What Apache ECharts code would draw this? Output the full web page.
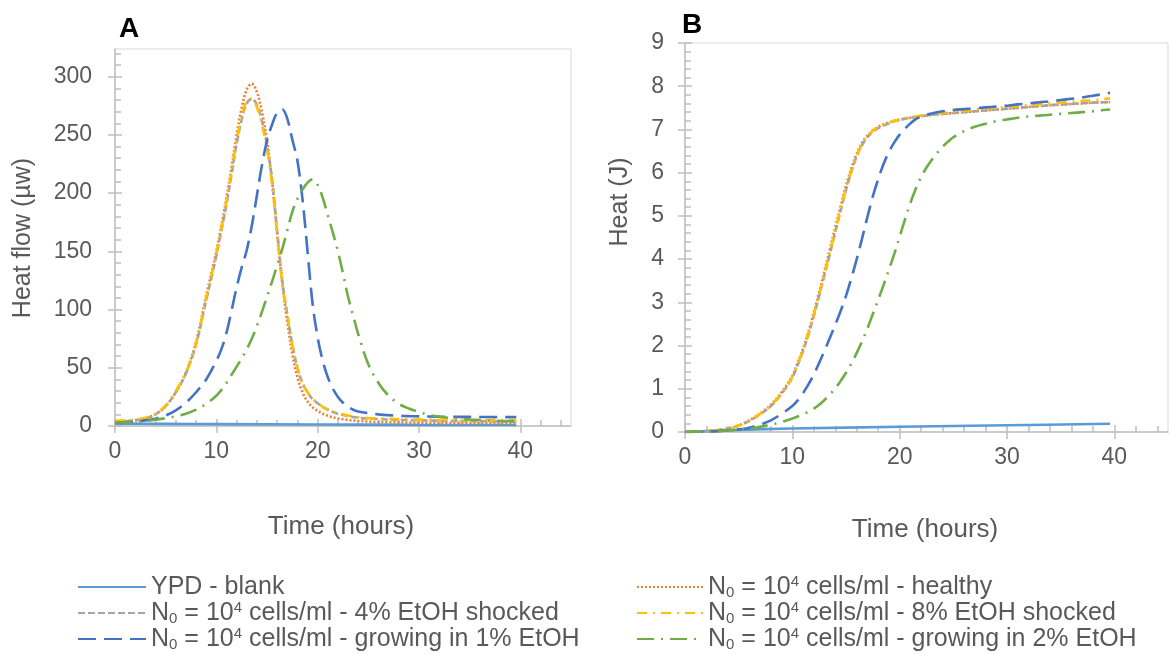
<!DOCTYPE html>
<html>
<head>
<meta charset="utf-8">
<script src="https://cdn.jsdelivr.net/npm/echarts@6/dist/echarts.min.js"></script>
<style>
  html, body { margin: 0; padding: 0; background: #ffffff; }
  #chart { width: 1169px; height: 654px; }
</style>
</head>
<body>
<div id="chart"></div>
<script>
// Sampling times (hours) shared by the culture curves
const TIME = [0,1,2,3,4,5,6,7,8,9,
  10,10.5,11,11.5,12,12.5,13,13.5,14,
  14.5,15,15.5,16,16.5,17,17.5,18,18.5,19,
  19.5,20,20.5,21,21.5,22,22.5,23,23.5,24,
  25,26,27,28,29,30,31,32,33,34,35,36,37,38,39,
  39.6];

// Blank medium is nearly a straight line, so it has its own coarse times
const BLANK_TIME = [0, 5, 10, 20, 30, 39.6];

// Panel A: heat flow (µW)
const FLOW_BLANK   = [2.0, 1.8, 1.6, 1.3, 1.0, 0.8];
const FLOW_HEALTHY = [3.5,4,5,6.5,10,17,29,46,72,112,
  150,172,196,222,250,273,289,294,287,
  270,245,210,165,123,90,62,42,29,21,
  16,13,10.5,8.8,7.5,6.5,5.8,5.2,4.7,4.3,
  3.8,3.5,3.3,3.1,3.0,2.9,2.8,2.7,2.6,2.5,2.5,2.4,2.4,2.3,2.3,
  2.2];
const FLOW_ETOH4 = [3.7,4,5,6.5,10,17,29,45,70,108,
  146,168,190,216,242,263,277,281,276,
  262,241,212,168,125,96,70,50,37,29,
  23,19.5,16.5,14,12,10.5,9.5,8.5,7.8,7,
  6.4,6,5.6,5.3,5.1,4.9,4.7,4.5,4.4,4.3,4.2,4.1,4.0,3.9,3.8,
  3.8];
const FLOW_ETOH8 = [4.5,4.8,5.6,7,10.5,17.5,30,46,71,110,
  148,170,193,219,245,266,279,281,274,
  259,238,208,166,124,95,70,50,37,29,
  23.5,19.5,16.5,14,12.5,11,10,9,8.2,7.5,
  6.8,6.4,6.1,5.9,5.7,5.6,5.5,5.4,5.3,5.2,5.2,5.1,5.1,5.0,5.0,
  5.0];
const FLOW_GROW1 = [3,3.2,3.8,4.8,6.3,9,13.5,20,29,40,
  56,66,80,99,119,136,151,172,198,
  224,245,259,269,272,264,246,228,195,150,
  105,76,56,42,32,25,20,16.5,14,12.5,
  11,10,9.3,8.8,8.5,8.3,8.1,8,7.9,7.8,7.8,7.7,7.7,7.6,7.6,
  7.6];
const FLOW_GROW2 = [3,3,3.5,4.3,5.3,6.7,8.3,10.5,14,19,
  26,31,37,44,51,58,66,75,86,
  98,111,124,138,152,168,184,195,203,209,
  212,207,196,181,166,150,131,111,95,79,
  53,37,26,19,15,12,9.5,8,7,6.2,5.6,5.1,4.7,4.4,4.2,
  4.1];

// Panel B: cumulative heat (J)
const HEAT_BLANK   = [0, 0.05, 0.08, 0.12, 0.155, 0.19];
const HEAT_HEALTHY = [0,0.01,0.02,0.04,0.08,0.15,0.27,0.43,0.63,0.92,
  1.3,1.6,1.93,2.32,2.76,3.24,3.73,4.23,4.73,
  5.22,5.7,6.1,6.44,6.69,6.86,6.98,7.06,7.12,7.16,
  7.2,7.23,7.25,7.27,7.29,7.31,7.32,7.34,7.35,7.36,
  7.38,7.4,7.42,7.44,7.46,7.48,7.5,7.52,7.54,7.56,7.57,7.59,7.6,7.62,7.63,
  7.63];
const HEAT_ETOH4 = [0,0.01,0.02,0.04,0.08,0.15,0.26,0.41,0.6,0.88,
  1.26,1.55,1.87,2.25,2.68,3.15,3.63,4.12,4.62,
  5.12,5.6,6.02,6.38,6.64,6.82,6.95,7.03,7.09,7.14,
  7.19,7.22,7.25,7.27,7.29,7.31,7.32,7.34,7.35,7.36,
  7.38,7.4,7.42,7.44,7.46,7.48,7.5,7.52,7.54,7.56,7.58,7.59,7.61,7.62,7.63,
  7.64];
const HEAT_ETOH8 = [0,0.01,0.02,0.04,0.08,0.15,0.26,0.42,0.61,0.9,
  1.28,1.58,1.9,2.28,2.72,3.19,3.67,4.16,4.66,
  5.15,5.63,6.05,6.4,6.66,6.84,6.97,7.05,7.11,7.16,
  7.2,7.23,7.26,7.28,7.3,7.32,7.34,7.36,7.37,7.38,
  7.41,7.43,7.46,7.48,7.5,7.52,7.54,7.56,7.58,7.6,7.62,7.64,7.66,7.68,7.7,
  7.72];
const HEAT_GROW1 = [0,0.005,0.01,0.02,0.04,0.06,0.1,0.17,0.27,0.42,
  0.6,0.73,0.9,1.1,1.33,1.6,1.88,2.18,2.48,
  2.8,3.15,3.56,4.0,4.48,4.98,5.45,5.85,6.2,6.48,
  6.7,6.88,7.02,7.14,7.24,7.3,7.34,7.37,7.4,7.42,
  7.45,7.47,7.49,7.51,7.53,7.55,7.58,7.6,7.63,7.65,7.68,7.71,7.74,7.78,7.82,
  7.85];
const HEAT_GROW2 = [0,0.005,0.01,0.02,0.035,0.055,0.08,0.12,0.17,0.23,
  0.31,0.36,0.41,0.47,0.54,0.63,0.74,0.87,1.01,
  1.18,1.37,1.58,1.83,2.1,2.4,2.73,3.06,3.4,3.76,
  4.12,4.52,4.92,5.3,5.63,5.9,6.12,6.3,6.46,6.6,
  6.82,6.96,7.06,7.13,7.19,7.23,7.27,7.3,7.32,7.34,7.36,7.38,7.4,7.42,7.45,
  7.46];

// Axis tick labels
const X_TICKS = [0, 10, 20, 30, 40];
const FLOW_TICKS = [0, 50, 100, 150, 200, 250, 300];
const HEAT_TICKS = [0, 1, 2, 3, 4, 5, 6, 7, 8, 9];

// Series names and legend text
const NAMES = ['blank', 'healthy', 'etoh4', 'etoh8', 'grow1', 'grow2'];
const LEGEND_TEXT = {
  blank:   '{t|YPD - blank}',
  healthy: '{t|N}{sub|0}{t| = 10}{sup|4}{t| cells/ml - healthy}',
  etoh4:   '{t|N}{sub|0}{t| = 10}{sup|4}{t| cells/ml - 4% EtOH shocked}',
  etoh8:   '{t|N}{sub|0}{t| = 10}{sup|4}{t| cells/ml - 8% EtOH shocked}',
  grow1:   '{t|N}{sub|0}{t| = 10}{sup|4}{t| cells/ml - growing in 1% EtOH}',
  grow2:   '{t|N}{sub|0}{t| = 10}{sup|4}{t| cells/ml - growing in 2% EtOH}'
};

const FONT = '"Liberation Sans", Arial, sans-serif';
const AXIS_GRAY = '#bfbfbf';
const TEXT_GRAY = '#595959';

const STYLES = {
  blank:   { color: '#5B9BD5', type: 'solid' },
  healthy: { color: '#ED7D31', type: [2, 2] },
  etoh4:   { color: '#A5A5A5', type: [7, 3] },
  etoh8:   { color: '#FFC000', type: [10, 6, 2, 6] },
  grow1:   { color: '#4472C4', type: [18, 8] },
  grow2:   { color: '#70AD47', type: [17, 7, 2, 7] }
};

const GRIDS = [
  { left: 115, top: 49, width: 456, height: 377, yMax: 323.8, yInterval: 50, yTicks: FLOW_TICKS, yMargin: 23 },
  { left: 685, top: 43, width: 483, height: 389, yMax: 9, yInterval: 1, yTicks: HEAT_TICKS, yMargin: 21 }
];

const xAxes = [], yAxes = [];
GRIDS.forEach((g, i) => {
  // main axes: line, labels and inward ticks
  xAxes.push({
    gridIndex: i, type: 'value', min: 0, max: 45, interval: 10, position: 'bottom',
    axisLine: { onZero: false, lineStyle: { color: AXIS_GRAY, width: 1.5 } },
    axisTick: { inside: true, length: 7, customValues: X_TICKS, lineStyle: { color: AXIS_GRAY, width: 1.5 } },
    minorTick: { show: true, splitNumber: 5, length: 6, lineStyle: { color: AXIS_GRAY, width: 1.5 } },
    splitLine: { show: false },
    axisLabel: { customValues: X_TICKS, color: TEXT_GRAY, fontSize: 23, fontFamily: FONT, margin: 14 }
  });
  yAxes.push({
    gridIndex: i, type: 'value', min: 0, max: g.yMax, interval: g.yInterval, position: 'left',
    axisLine: { onZero: false, lineStyle: { color: AXIS_GRAY, width: 1.5 } },
    axisTick: { inside: true, length: 7, customValues: g.yTicks, lineStyle: { color: AXIS_GRAY, width: 1.5 } },
    minorTick: { show: true, splitNumber: 5, length: 6, lineStyle: { color: AXIS_GRAY, width: 1.5 } },
    splitLine: { show: false },
    axisLabel: { customValues: g.yTicks, color: TEXT_GRAY, fontSize: 23, fontFamily: FONT, margin: g.yMargin }
  });
  // companion axes that only add the outward half of each major tick
  xAxes.push({
    gridIndex: i, type: 'value', min: 0, max: 45, interval: 10, position: 'top', offset: -g.height,
    axisLine: { show: false, onZero: false },
    axisTick: { inside: true, length: 7, customValues: X_TICKS, lineStyle: { color: AXIS_GRAY, width: 1.5 } },
    axisLabel: { show: false }, splitLine: { show: false }
  });
  yAxes.push({
    gridIndex: i, type: 'value', min: 0, max: g.yMax, interval: g.yInterval, position: 'right', offset: -g.width,
    axisLine: { show: false, onZero: false },
    axisTick: { inside: true, length: 7, customValues: g.yTicks, lineStyle: { color: AXIS_GRAY, width: 1.5 } },
    axisLabel: { show: false }, splitLine: { show: false }
  });
});

const PANEL_DATA = [
  { blank: FLOW_BLANK, healthy: FLOW_HEALTHY, etoh4: FLOW_ETOH4, etoh8: FLOW_ETOH8, grow1: FLOW_GROW1, grow2: FLOW_GROW2 },
  { blank: HEAT_BLANK, healthy: HEAT_HEALTHY, etoh4: HEAT_ETOH4, etoh8: HEAT_ETOH8, grow1: HEAT_GROW1, grow2: HEAT_GROW2 }
];

const series = [];
PANEL_DATA.forEach((set, p) => {
  NAMES.forEach(name => {
    const times = name === 'blank' ? BLANK_TIME : TIME;
    const vals = set[name];
    series.push({
      name: name, type: 'line',
      xAxisIndex: p * 2, yAxisIndex: p * 2,
      data: times.map((t, k) => [t, vals[k]]),
      symbol: 'none', showSymbol: false,
      smooth: 0.35,
      lineStyle: { color: STYLES[name].color, width: 2.6, type: STYLES[name].type, cap: 'butt' },
      itemStyle: { color: STYLES[name].color },
      emphasis: { disabled: true },
      animation: false
    });
  });
});

const legendText = {
  color: TEXT_GRAY, fontSize: 25, fontFamily: FONT, lineHeight: 26,
  rich: {
    t:   { color: TEXT_GRAY, fontSize: 25, fontFamily: FONT, lineHeight: 26 },
    sub: { color: TEXT_GRAY, fontSize: 15, fontFamily: FONT, lineHeight: 15, verticalAlign: 'bottom' },
    sup: { color: TEXT_GRAY, fontSize: 15, fontFamily: FONT, lineHeight: 15, verticalAlign: 'top' }
  }
};
const legendBase = {
  orient: 'vertical', itemGap: 0, itemHeight: 14, padding: 0,
  selectedMode: false,
  // line sample only, no marker on it
  itemStyle: { color: 'rgba(0,0,0,0)', borderWidth: 0, opacity: 0 },
  formatter: name => LEGEND_TEXT[name],
  textStyle: legendText
};

const titleStyle = { fill: TEXT_GRAY, fontFamily: FONT, fontSize: 26, align: 'center', verticalAlign: 'middle' };
const sideTitleStyle = { fill: TEXT_GRAY, fontFamily: FONT, fontSize: 25, align: 'center', verticalAlign: 'middle' };

const option = {
  animation: false,
  backgroundColor: '#ffffff',
  grid: GRIDS.map(g => ({
    left: g.left, top: g.top, width: g.width, height: g.height,
    show: true, borderColor: '#d9d9d9', borderWidth: 1, backgroundColor: 'transparent',
    containLabel: false, outerBoundsMode: 'none'
  })),
  xAxis: xAxes,
  yAxis: yAxes,
  legend: [
    Object.assign({}, legendBase, { left: 77, top: 574, itemWidth: 68, data: ['blank', 'etoh4', 'grow1'] }),
    Object.assign({}, legendBase, { left: 636, top: 574, itemWidth: 66, data: ['healthy', 'etoh8', 'grow2'] })
  ],
  graphic: [
    { type: 'text', left: 119, top: 15, style: { text: 'A', fill: '#000000', font: 'bold 28px ' + FONT } },
    { type: 'text', left: 682, top: 11, style: { text: 'B', fill: '#000000', font: 'bold 28px ' + FONT } },
    { type: 'text', x: 23, y: 238, rotation: Math.PI / 2, style: Object.assign({ text: 'Heat flow (µw)' }, sideTitleStyle) },
    { type: 'text', x: 620, y: 202, rotation: Math.PI / 2, style: Object.assign({ text: 'Heat (J)' }, sideTitleStyle) },
    { type: 'text', x: 341, y: 527, style: Object.assign({ text: 'Time (hours)' }, titleStyle) },
    { type: 'text', x: 925, y: 530, style: Object.assign({ text: 'Time (hours)' }, titleStyle) }
  ],
  series: series
};

const chart = echarts.init(document.getElementById('chart'), null, { renderer: 'canvas' });
chart.setOption(option);
</script>
</body>
</html>
